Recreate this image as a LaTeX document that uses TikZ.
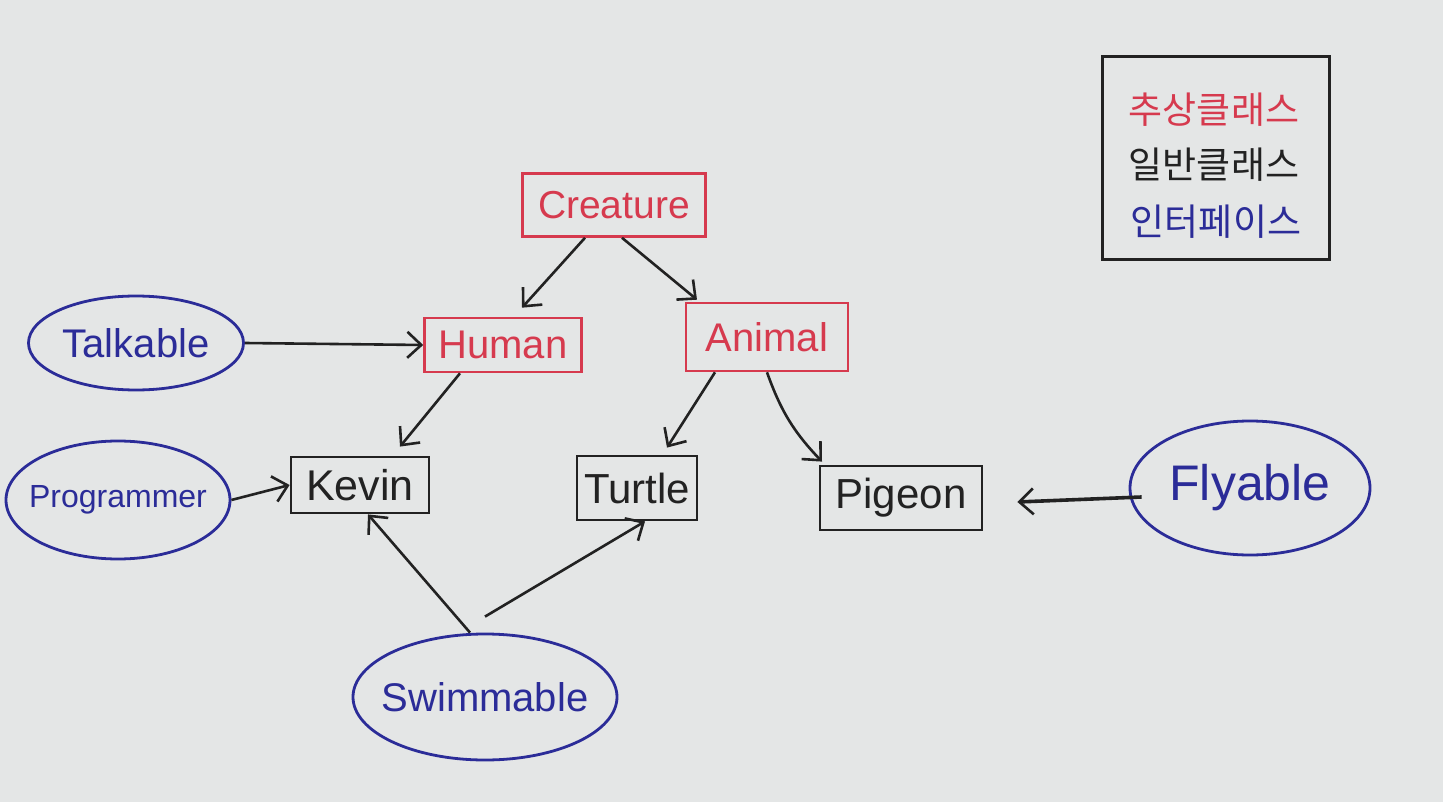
\documentclass[tikz,border=0pt]{standalone}
\usepackage{fontspec}
\setmainfont{Liberation Sans}
\newfontfamily\krfont{Noto Sans CJK KR}
\usetikzlibrary{shapes.geometric,arrows.meta}
\definecolor{paper}{HTML}{E4E6E6}
\definecolor{penred}{HTML}{D63A4E}
\definecolor{penblue}{HTML}{2B2C98}
\definecolor{penblack}{HTML}{222222}
\newcommand{\fsz}[1]{\fontsize{#1}{#1}\selectfont}
\tikzset{
  absbox/.style={draw=penred,text=penred,line width=2.6pt,rectangle,inner sep=0pt},
  clsbox/.style={draw=penblack,text=penblack,line width=2.8pt,rectangle,inner sep=0pt},
  ifc/.style={draw=penblue,text=penblue,line width=2.8pt,ellipse,inner sep=-45pt},
  arr/.style={draw=penblack,line width=2.6pt,-{Straight Barb[length=14pt,width=26pt,line width=2.6pt]}},
  legtxt/.style={font=\krfont\fsz{37}}
}
\begin{document}
\begin{tikzpicture}[x=1pt,y=-1pt]
\fill[paper] (0,0) rectangle (1443,802);
\useasboundingbox (0,0) rectangle (1443,802);

% legend
\node[draw=penblack,line width=3pt,minimum width=227pt,minimum height=203pt,inner sep=0pt] (legend) at (1216,158) {};
\node[legtxt,text=penred] (lab1) at (1214,110) {추상클래스};
\node[legtxt,text=penblack] (lab2) at (1214,165) {일반클래스};
\node[legtxt,text=penblue] (lab3) at (1216,222) {인터페이스};

% abstract classes
\node[absbox,minimum width=183pt,minimum height=63pt,font=\fsz{39}] (creature) at (614,205) {Creature};
\node[absbox,minimum width=157pt,minimum height=54pt,font=\fsz{40}] (human) at (503,345) {Human};
\node[absbox,minimum width=162pt,minimum height=68pt,font=\fsz{40}] (animal) at (767,337) {Animal};

% classes
\node[clsbox,minimum width=138pt,minimum height=56pt,font=\fsz{43}] (kevin) at (360,485) {Kevin};
\node[clsbox,minimum width=120pt,minimum height=64pt,font=\fsz{42}] (turtle) at (637,488) {Turtle};
\node[clsbox,minimum width=162pt,minimum height=64pt,font=\fsz{42}] (pigeon) at (901,498) {Pigeon};

% interfaces
\node[ifc,minimum width=215pt,minimum height=94pt,font=\fsz{40}] (talkable) at (136,343) {Talkable};
\node[ifc,minimum width=224pt,minimum height=118pt,font=\fsz{32}] (programmer) at (118,500) {Programmer};
\node[ifc,minimum width=240pt,minimum height=134pt,font=\fsz{50}] (flyable) at (1250,488) {Flyable};
\node[ifc,minimum width=264pt,minimum height=126pt,font=\fsz{40}] (swimmable) at (485,697) {Swimmable};

% connectors
\draw[arr] ([xshift=-29pt]creature.south) -- ([xshift=19pt,yshift=9pt]human.north);
\draw[arr] ([xshift=8pt]creature.south) -- ([xshift=-70pt,yshift=2pt]animal.north);
\draw[arr] (talkable.east) -- (human.west);
\draw[arr] ([xshift=-43pt]human.south) -- ([xshift=40pt,yshift=9pt]kevin.north);
\draw[arr] ([xshift=-52pt]animal.south) -- ([xshift=30pt,yshift=7pt]turtle.north);
\draw[arr] (animal.south) to[bend right=12] ([xshift=-79pt,yshift=3pt]pigeon.north);
\draw[arr] (programmer.east) -- (kevin.west);
\draw[arr] ([xshift=-15pt]swimmable.north) -- ([xshift=8pt]kevin.south);
\draw[arr] ([yshift=16pt]swimmable.north) -- ([xshift=8pt]turtle.south);
\draw[arr,line width=3.6pt] ([xshift=13pt,yshift=-9pt]flyable.west) -- ([xshift=34pt,yshift=-4pt]pigeon.east);
\end{tikzpicture}
\end{document}
